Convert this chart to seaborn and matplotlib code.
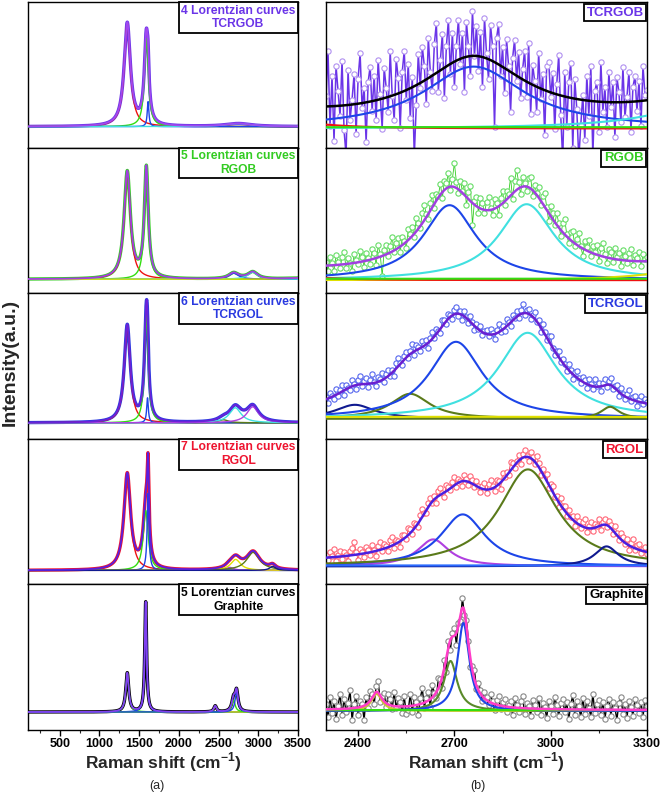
import numpy as np
import matplotlib.pyplot as plt
import seaborn as sns
from matplotlib.ticker import MultipleLocator

sns.set_theme(style="white")
plt.rcParams["font.family"] = ["Liberation Sans", "DejaVu Sans"]
plt.rcParams["mathtext.fontset"] = "custom"
plt.rcParams["mathtext.rm"] = "Liberation Sans"
plt.rcParams["mathtext.bf"] = "Liberation Sans:bold"

# ---------------- values ----------------
samples = ["TCRGOB", "RGOB", "TCRGOL", "RGOL", "Graphite"]
n_curves = [4, 5, 6, 7, 5]

# panel (a) fits: (centre cm-1, FWHM cm-1, height above baseline)
tcrgob_full = [(1350, 95, 103), (1590, 60, 88), (1612, 25, 25), (2750, 400, 3)]
rgob_full = [(1350, 95, 107), (1590, 60, 110), (2690, 150, 6), (2930, 150, 7), (3450, 300, 1)]
tcrgol_full = [(1350, 90, 97), (1590, 55, 108), (1605, 25, 25), (2560, 150, 3),
               (2710, 180, 15), (2930, 180, 16)]
rgol_full = [(1350, 100, 96), (1582, 75, 60), (1612, 28, 77), (2640, 120, 3),
             (2715, 150, 11), (2935, 200, 18), (3180, 90, 4)]
graphite_full = [(1350, 45, 39), (1582, 28, 110), (2458, 40, 6), (2688, 50, 12), (2726, 45, 20)]

# panel (b) fits of the 2D band
tcrgob_2d = [(2760, 380, 62), (3500, 400, 26), (2150, 300, 8), (2800, 4000, 1.5)]
rgob_2d = [(2685, 200, 75), (2925, 210, 76), (3450, 300, 12), (2200, 300, 3), (2800, 4000, 1.5)]
tcrgol_2d = [(2390, 150, 14), (2562, 150, 25), (2705, 200, 77), (2928, 220, 86),
             (3185, 70, 12), (2800, 4000, 2)]
rgol_2d = [(2634, 120, 27), (2726, 170, 52), (2929, 220, 97), (3174, 90, 20), (2800, 4000, 1)]
graphite_2d = [(2458, 40, 17), (2688, 50, 50), (2728, 44, 88), (2800, 4000, 1)]
fit_offset_2d = [7, 4, 3, 2, 0]

# measured points: scatter about the 2D fit (2300-3300 cm-1)
tcrgob_resid = [10, 55, -20, 30, -35, 40, 15, -10, 45, -25, -50, 35, -15, 5, 30, -30, 25, 50, -5, 15,
                -40, 20, 35, -10, 25, -20, 40, 5, -30, 30, 10, -15, 45, 0, -25, 35, 15, -35, 20, 40,
                -10, 25, -30, 10, -70, -20, 30, -5, 35, 15, -25, 40, 5, -15, 30, 50, -20, 10, 35, -30,
                20, 45, -10, 30, -25, 15, 40, -5, 25, -35, 35, 10, -20, 45, 0, 30, -15, 25, -30, 40,
                5, -20, 35, 15, -65, 25, 40, -10, 20, -25, 30, 5, -40, 15, 35, -5, 25, -20, 10, 30,
                -15, 40, -30, 20, 5, -25, 35, -10, 15, -45, 25, 30, -5, 20, -35, 10, 40, -20, -65, 25,
                -30, 15, 35, -50, 20, -10, -60, -25, 5, -40, 25, -15, 35, -55, 10, 20, -30, 40, -10, 15,
                -25, 30, -5, 20, -35, 25, 10, -20, 35, -15, 5, 30, -30, 15, 25, -10, 20, -25, 35, 5,
                10]
rgob_resid = [4, -5, 8, 2, -6, 10, 3, -3, 7, 12, -4, 6, 1, -8, 9, 3, -2, 11, 5, -6,
              8, 2, -4, 10, 6, -7, 12, 3, -20, 5, 9, -3, 7, 14, -2, 6, 10, -5, 8, 3,
              -6, 11, 4, 9, -3, 13, 6, -2, 10, 15, 3, -5, 8, 12, -4, 7, 2, 11, -6, 9,
              5, 14, -3, 8, 24, 6, -4, 10, 2, 12, -8, 7, 15, -22, 4, 9, -5, 11, 6, -3,
              8, 13, 2, -6, 10, 5, -9, 7, 12, -3, 9, 4, 18, -5, 11, 20, 6, -7, 10, 3,
              -4, 9, 12, -6, 7, 2, 11, -5, 8, 14, 3, -8, 10, 6, -3, 12, 4, -6, 9, 15,
              2, -5, 8, 11, -3, 6, 13, 1, -7, 9, 4, 12, -4, 7, 2, 10, -6, 8, 14, 3,
              -5, 9, 6, -3, 11, 2, 7, -6, 10, 4, -2, 8, 12, -4, 6, 3, 9, -5, 7, 2,
              4]
tcrgol_resid = [2, -4, 5, 1, -3, 6, -2, 3, 7, -5, 4, 0, -3, 6, 2, -4, 5, 8, -2, 3,
                6, -3, 4, 9, 1, -4, 5, 2, 7, -3, 4, 6, -2, 3, -5, 5, 8, 1, -3, 4,
                6, -2, 3, 9, -4, 5, 2, -3, 6, 1, 4, -5, 3, 7, -2, 5, 0, -4, 6, 3,
                -3, 5, 2, -4, 4, 7, -2, 3, -5, 5, 1, -3, 6, 2, -4, 4, 0, 5, -3, 2,
                4, -2, 6, 1, -5, 3, 8, -1, 4, -3, 7, 2, -4, 5, 1, 6, -3, 4, 9, -2,
                3, 5, -4, 2, 7, -1, 4, -5, 6, 2, -3, 5, 8, 0, -4, 3, 6, -2, 4, 1,
                -3, 6, 2, -5, 4, 7, 1, -2, 5, 3, -4, 6, 2, -3, 8, 1, 4, -5, 3, 6,
                -2, 4, 7, -3, 2, 5, -4, 6, 1, -3, 4, 8, -2, 3, 5, -5, 2, 6, -1, 4,
                2]
rgol_resid = [3, -2, 5, 1, 8, -4, 2, 6, -3, 4, 1, -5, 4, 7, 13, 3, -6, 5, 2, -4,
              6, 3, -3, 7, 1, -5, 4, 8, -2, 5, 2, -4, 6, 9, -3, 4, 1, -6, 5, 3,
              -2, 7, 4, -3, 6, 2, -4, 5, 8, 1, -3, 4, 6, -2, 3, -5, 5, 7, 1, -4,
              6, 3, -2, 5, 8, -3, 4, 1, -5, 6, 2, -3, 7, 4, -2, 5, 1, -4, 3, 6,
              -3, 5, 9, 2, -4, 6, 3, -6, 7, 1, 4, -2, 8, 5, -3, 2, 6, -5, 4, 7,
              1, -4, 6, 3, -2, 8, 4, -5, 5, 2, 7, -3, 4, 6, -1, 3, -5, 7, 2, 5,
              -3, 6, 1, 4, -5, 7, 3, -2, 5, 8, -4, 2, 6, -3, 4, 1, 7, -5, 3, 6,
              -2, 5, 3, -4, 7, 2, -3, 6, 4, -1, 5, -5, 3, 8, -2, 4, 6, -3, 2, 5,
              -2]
graphite_resid = [5, -8, 12, -4, 8, -10, 3, 15, -6, 10, -3, 6, 18, -12, 4, 12, -8, 6, 2, -14,
                  8, -5, 10, 4, -10, 6, 12, -6, 3, 8, -4, 10, 6, -3, 14, -2, 8, 5, -6, 10,
                  -8, -4, 12, -6, 8, 3, -10, 6, 15, -5, 4, 9, -8, 12, 2, -6, 10, 4, -12, 8,
                  -14, 6, -10, 4, 8, -12, 3, -6, 10, -4, 6, 2, -8, 5, 9, -3, 7, 4, -5, 6,
                  3, -4, 8, 2, -6, 5, 9, -3, 4, 7, -5, 2, 6, -8, 10, 3, -4, 7, 12, -6,
                  5, 2, -7, 9, 4, -3, 11, -6, 6, 2, -9, 8, 3, -5, 12, 4, -7, 6, 10, -3,
                  7, -10, 5, 14, -6, 8, 3, -8, 12, -4, 9, 2, -7, 16, -3, 6, 10, -5, 8, -9,
                  4, 11, -6, 8, 2, -10, 7, 13, -4, 6, -8, 9, 3, -6, 11, 5, -3, 8, -7, 10,
                  4]

# ---------------- styles ----------------
RED, GREEN, BLUE, CYAN = "#ee1111", "#33dd11", "#1d45e8", "#40e0e0"
YELLOW, VIOLET, OLIVE, NAVY = "#e0e000", "#b040e0", "#5a7a1a", "#101a90"

sample_colors = ["#6b35e8", "#33cc22", "#2a3ae0", "#ee1530", "black"]
marker_edges = ["#b090f0", "#66dd66", "#5566ee", "#ff6677", "#888888"]
data_lw_2d = [1.1, 0.6, 0.5, 0.5, 1.0]
full_fit_colors = ["#a048f0", "#a040e0", "#6a22d8", "#5a1ee0", "#8040f0"]
zoom_fit_colors = ["black", "#a040e0", "#6a1fd0", "#4a1fe0", "#ff3cc8"]
full_comp_colors = [[RED, GREEN, BLUE, CYAN],
                    [RED, GREEN, BLUE, CYAN, YELLOW],
                    [RED, GREEN, BLUE, OLIVE, CYAN, VIOLET],
                    [RED, GREEN, BLUE, VIOLET, YELLOW, OLIVE, NAVY],
                    [GREEN, BLUE, YELLOW, GREEN, BLUE]]
zoom_comp_colors = [[BLUE, CYAN, RED, GREEN],
                    [BLUE, CYAN, YELLOW, RED, GREEN],
                    [NAVY, OLIVE, BLUE, CYAN, OLIVE, YELLOW],
                    [VIOLET, BLUE, OLIVE, NAVY, "#2a6aff"],
                    ["#c8c832", "#5a8a2a", BLUE, GREEN]]
left_base = [21, 14, 16, 14, 18]
right_base = [19, 13, 20, 18, 19]

full_peaks = [tcrgob_full, rgob_full, tcrgol_full, rgol_full, graphite_full]
zoom_peaks = [tcrgob_2d, rgob_2d, tcrgol_2d, rgol_2d, graphite_2d]
residuals = [tcrgob_resid, rgob_resid, tcrgol_resid, rgol_resid, graphite_resid]


def lorentz(x, c, w, h):
    return h / (1.0 + ((x - c) / (w / 2.0)) ** 2)


def style_axes(ax, bottom, major, minor):
    for s in ax.spines.values():
        s.set_linewidth(1.0)
        s.set_color("black")
    ax.set_yticks([])
    ax.set_xlabel("")
    ax.set_ylabel("")
    if bottom:
        ax.xaxis.set_major_locator(MultipleLocator(major))
        ax.xaxis.set_minor_locator(MultipleLocator(minor))
        ax.tick_params(axis="x", which="major", bottom=True, direction="out",
                       length=4, width=1, labelsize=9, pad=2, colors="black")
        ax.tick_params(axis="x", which="minor", bottom=True, direction="out",
                       length=2.5, width=0.8)
        for lbl in ax.get_xticklabels():
            lbl.set_fontweight("bold")
    else:
        ax.tick_params(axis="x", which="both", bottom=False, labelbottom=False)


W, H = 661, 793
PH = 145.6
fig = plt.figure(figsize=(W / 100, H / 100), dpi=100)

x_full = np.linspace(100, 3500, 3401)
x_zoom = np.linspace(2300, 3300, 1001)

for i, name in enumerate(samples):
    top = 2 + i * PH
    bottom = i == len(samples) - 1

    # ---- (a) full spectrum ----
    ax = fig.add_axes([28 / W, 1 - (top + PH) / H, 270 / W, PH / H])
    comps = [lorentz(x_full, *p) for p in full_peaks[i]]
    total = np.sum(comps, axis=0)
    sns.lineplot(x=x_full, y=total, ax=ax, color=sample_colors[i], lw=2.4,
                 estimator=None, zorder=2)
    for comp, col in zip(comps, full_comp_colors[i]):
        sns.lineplot(x=x_full, y=comp, ax=ax, color=col, lw=1.0, estimator=None, zorder=3)
    sns.lineplot(x=x_full, y=total, ax=ax, color=full_fit_colors[i], lw=1.3,
                 estimator=None, zorder=4)
    ax.set_xlim(100, 3500)
    ax.set_ylim(-left_base[i], PH - left_base[i])
    style_axes(ax, bottom, 500, 250)
    ax.annotate(f"{n_curves[i]} Lorentzian curves\n{name}", xy=(1, 1),
                xycoords="axes fraction", xytext=(-1.8, -1.8), textcoords="offset points",
                ha="right", va="top", fontsize=8.7, fontweight="bold",
                color=sample_colors[i], multialignment="center", zorder=10,
                bbox=dict(boxstyle="square,pad=0.2", fc="white", ec="black", lw=1.3))

    # ---- (b) 2D band ----
    ax = fig.add_axes([326 / W, 1 - (top + PH) / H, 321 / W, PH / H])
    resid = np.array(residuals[i], dtype=float)
    xd = np.linspace(2300, 3300, len(resid))
    yd = fit_offset_2d[i] + np.sum([lorentz(xd, *p) for p in zoom_peaks[i]], axis=0) + resid
    sns.lineplot(x=xd, y=yd, ax=ax, color=sample_colors[i], lw=data_lw_2d[i],
                 marker="o", markersize=3.8, markerfacecolor="white",
                 markeredgecolor=marker_edges[i], markeredgewidth=0.8,
                 estimator=None, zorder=2)
    comps = [lorentz(x_zoom, *p) for p in zoom_peaks[i]]
    for comp, col in zip(comps, zoom_comp_colors[i]):
        sns.lineplot(x=x_zoom, y=comp, ax=ax, color=col, lw=1.5, estimator=None, zorder=3)
    fit = fit_offset_2d[i] + np.sum(comps, axis=0)
    sns.lineplot(x=x_zoom, y=fit, ax=ax, color=zoom_fit_colors[i], lw=1.8,
                 estimator=None, zorder=4)
    ax.set_xlim(2300, 3300)
    ax.set_ylim(-right_base[i], PH - right_base[i])
    style_axes(ax, bottom, 300, 150)
    ax.annotate(name, xy=(1, 1), xycoords="axes fraction", xytext=(-2.5, -3.5),
                textcoords="offset points", ha="right", va="top", fontsize=9.5,
                fontweight="bold", color=sample_colors[i], zorder=10,
                bbox=dict(boxstyle="square,pad=0.2", fc="white", ec="black", lw=1.3))

xlab = "Raman shift (cm$^{\\mathbf{-1}}$)"
fig.text(163 / W, 1 - 762 / H, xlab, ha="center", va="center", fontsize=12.5, fontweight="bold")
fig.text(486 / W, 1 - 762 / H, xlab, ha="center", va="center", fontsize=12.5, fontweight="bold")
fig.text(157 / W, 1 - 786 / H, "(a)", ha="center", va="center", fontsize=9)
fig.text(478 / W, 1 - 786 / H, "(b)", ha="center", va="center", fontsize=9)
fig.text(10 / W, 1 - 362 / H, "Intensity(a.u.)", rotation=90, ha="center", va="center",
         fontsize=14, fontweight="bold")

fig.savefig("out.png", dpi=100, facecolor="white")
